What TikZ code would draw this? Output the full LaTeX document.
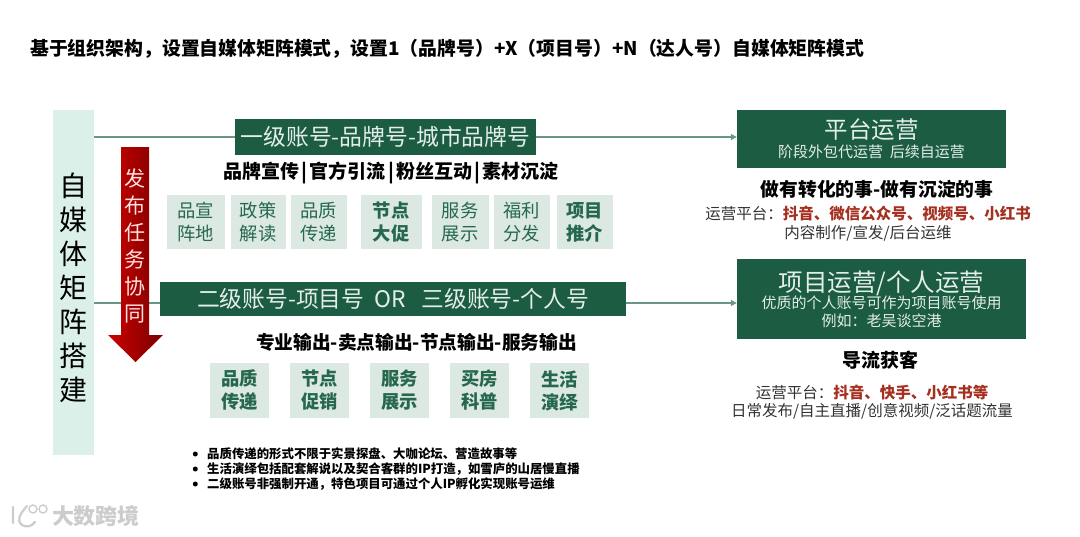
\documentclass[tikz,border=0pt]{standalone}
\usepackage{fontspec}
\setmainfont{Noto Sans CJK SC}
\usepackage{xcolor}
\usetikzlibrary{arrows.meta, positioning}
\definecolor{deepgreen}{RGB}{27,92,66}
\definecolor{chipgreen}{RGB}{220,233,226}
\definecolor{barmint}{RGB}{218,240,232}
\definecolor{chiptext}{RGB}{38,104,78}
\definecolor{linegreen}{RGB}{105,150,133}
\definecolor{paleink}{RGB}{228,238,233}
\definecolor{hotred}{RGB}{165,48,32}
\newcommand{\fsz}[2]{\fontsize{#1}{#2}\selectfont}

\begin{document}
\begin{tikzpicture}[
    x=1pt, y=-1pt,
    node distance=6pt,
    chip/.style={rectangle, fill=chipgreen, text=chiptext, inner sep=0pt, outer sep=0pt,
                 minimum width=57pt, minimum height=54pt, align=center,
                 font=\fsz{18.3}{23}},
    chipb/.style={chip, font=\fsz{18.3}{23}\bfseries},
    acct/.style={rectangle, fill=deepgreen, text=paleink, inner sep=0pt,
                 minimum height=36pt, font=\fsz{22.8}{26}},
    opsbox/.style={rectangle, fill=deepgreen, text=paleink, inner sep=0pt,
                   align=center},
    head/.style={inner sep=0pt, font=\fsz{19}{22}\bfseries},
    plain/.style={inner sep=0pt, align=center, text=black!80, font=\fsz{15.5}{19}},
    note/.style={inner sep=0pt, anchor=west, font=\fsz{12.4}{14}\bfseries},
    dot/.style={circle, fill=black, inner sep=0pt, minimum size=5pt},
    link/.style={line width=1.2pt, color=linegreen},
    arr/.style={-{Triangle[length=6pt,width=6pt]}, line width=1.2pt, color=linegreen}
]
\useasboundingbox (0,0) rectangle (1080,536);

\node[inner sep=0pt, anchor=west, font=\fsz{18.85}{22}\bfseries] (title) at (30,49)
  {基于组织架构，设置自媒体矩阵模式，设置1（品牌号）+X（项目号）+N（达人号）自媒体矩阵模式};

% left bar
\node[rectangle, fill=barmint, inner sep=0pt, minimum width=41pt, minimum height=345pt,
      align=center, font=\fsz{28}{34}] (bar) at (73.5,282.5)
  {\rule{0pt}{34pt}自\\媒\\体\\矩\\阵\\搭\\建};

% accounts
\node[acct, minimum width=301pt] (acc1) at (385.5,136.5) {一级账号-品牌号-城市品牌号};
\node[acct, minimum width=466pt, minimum height=34pt] (acc2) at (393,299) {二级账号-项目号\ \ OR\ \ \ 三级账号-个人号};

% operations
\node[opsbox, minimum width=269pt, minimum height=58pt] (plat) at (871.5,139)
  {{\fsz{23.5}{26}平台运营}\\[3pt]{\fsz{15}{18}阶段外包代运营\ \ 后续自运营}};
\node[opsbox, minimum width=289pt, minimum height=80pt] (proj) at (881.5,299)
  {{\fsz{24.5}{27}项目运营/个人运营}\\[-1pt]{\fsz{15}{19}优质的个人账号可作为项目账号使用}\\[3pt]{\fsz{15}{18}例如：老吴谈空港}};

\coordinate (rowA) at (300,137);
\coordinate (rowB) at (300,303);
\draw[link] (bar.east |- rowA) -- (acc1.west |- rowA);
\draw[arr] (acc1.east |- rowA) -- (plat.west |- rowA);
\draw[link] (bar.east |- rowB) -- (acc2.west |- rowB);
\draw[arr] (acc2.east |- rowB) -- (proj.west |- rowB);

% red arrow
\shade[left color=red!80!black, middle color=red!85!black, right color=red!48!black]
  (121,147) -- (149,147) -- (149,335) -- (163,335) -- (135.5,362) -- (108,335) -- (121,335) -- cycle;
\node[inner sep=0pt, align=center, text=red!12, font=\fsz{21}{27}] (task) at (135,246)
  {发\\布\\任\\务\\协\\同};

% first row
\node[head] (sub1) at (391,173) {品牌宣传\hspace{2.3pt}|\hspace{2.3pt}官方引流\hspace{2.3pt}|\hspace{2.3pt}粉丝互动\hspace{2.3pt}|\hspace{2.3pt}素材沉淀};
\node[chip, minimum width=58pt] (a1) at (195.5,222) {品宣\\阵地};
\node[chip, minimum width=55pt, right=of a1] (a2) {政策\\解读};
\node[chip, minimum width=56pt, right=5pt of a2] (a3) {品质\\传递};
\node[chipb, minimum width=61pt, right=14pt of a3] (a4) {节点\\大促};
\node[chip, minimum width=57pt, right=10pt of a4] (a5) {服务\\展示};
\node[chip, minimum width=56pt, right=5pt of a5] (a6) {福利\\分发};
\node[chipb, minimum width=56pt, right=7pt of a6] (a7) {项目\\推介};

% second row
\node[head, font=\fsz{18.7}{22}\bfseries] (sub2) at (416.5,342) {专业输出-卖点输出-节点输出-服务输出};
\node[chipb, minimum width=59pt, minimum height=55pt] (b1) at (239.5,390.5) {品质\\传递};
\node[chipb, minimum width=59pt, minimum height=55pt, right=21pt of b1] (b2) {节点\\促销};
\node[chipb, minimum width=59pt, minimum height=55pt, right=21pt of b2] (b3) {服务\\展示};
\node[chipb, minimum width=59pt, minimum height=55pt, right=21pt of b3] (b4) {买房\\科普};
\node[chipb, minimum width=59pt, minimum height=55pt, right=21pt of b4] (b5) {生活\\演绎};

% notes
\node[note] (n1) at (207,454) {品质传递的形式不限于实景探盘、大咖论坛、营造故事等};
\node[note] (n2) at (207,469) {生活演绎包括配套解说以及契合客群的IP打造，如雪庐的山居慢直播};
\node[note] (n3) at (207,484) {二级账号非强制开通，特色项目可通过个人IP孵化实现账号运维};
\node[dot, left=9pt of n1] (d1) {};
\node[dot, left=9pt of n2] (d2) {};
\node[dot, left=9pt of n3] (d3) {};

% right texts
\node[head, font=\fsz{18.8}{22}\bfseries] (do1) at (877,189) {做有转化的事-做有沉淀的事};
\node[plain] (pf1) at (868,214) {运营平台：\textcolor{hotred}{\bfseries 抖音、微信公众号、视频号、小红书}};
\node[plain] (job1) at (868,233) {内容制作/宣发/后台运维};
\node[head] (do2) at (880,360) {导流获客};
\node[plain] (pf2) at (872,393) {运营平台：\textcolor{hotred}{\bfseries 抖音、快手、小红书等}};
\node[plain] (job2) at (872,411) {日常发布/自主直播/创意视频/泛话题流量};

% watermark
\draw[white!80!black, line width=2.2pt, line cap=round]
  (13,507) -- (13,523) (27,506) .. controls (20,514) and (16,520) .. (22,525) .. controls (27,528) and (32,526) .. (35,522);
\draw[white!80!black, line width=1.4pt] (33,509) circle (4pt) (43,509) circle (4pt);
\node[inner sep=0pt, text=white!80!black, font=\fsz{22}{26}\bfseries] (mark) at (96,516) {大数跨境};
\end{tikzpicture}
\end{document}
